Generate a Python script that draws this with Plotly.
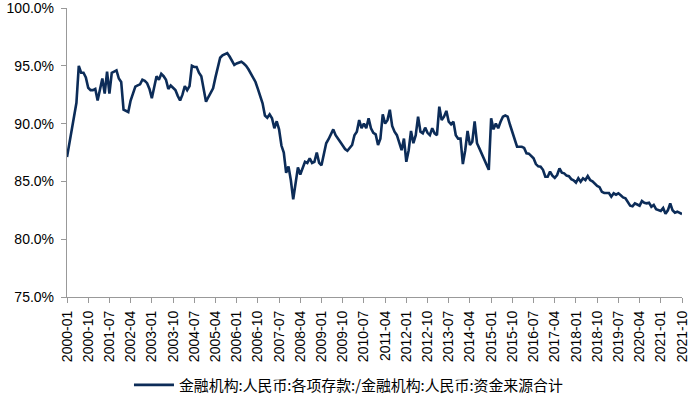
import plotly.graph_objects as go

start_year, start_month = 2000, 1
n_months = 262
months = []
y, m = start_year, start_month
for _ in range(n_months):
    months.append(f"{y}-{m:02d}")
    m += 1
    if m > 12:
        m = 1
        y += 1

values = [
    87.1, 88.3, 89.3, 90.5, 91.8, 95.0, 94.4, 94.4, 94.0, 93.1,
    92.9, 92.9, 93.0, 92.0, 93.0, 93.9, 92.6, 94.5, 92.6, 94.4,
    94.5, 94.6, 93.9, 93.6, 91.2, 91.1, 91.0, 92.0, 92.6, 93.2,
    93.3, 93.4, 93.8, 93.7, 93.5, 93.0, 92.2, 93.2, 94.1, 93.8,
    94.3, 94.1, 93.8, 93.0, 93.3, 93.1, 92.9, 92.4, 92.0, 92.5,
    93.25, 92.9, 93.25, 95.0, 94.9, 94.9, 94.4, 94.1, 93.0, 91.9,
    92.3, 92.7, 93.05, 94.0, 95.0, 95.7, 95.9, 96.0, 96.1, 95.8,
    95.4, 95.07, 95.2, 95.27, 95.35, 95.2, 95.0, 94.7, 94.35, 94.0,
    93.6, 93.0, 92.4, 91.75, 90.7, 90.5, 90.8, 90.46, 89.6, 90.2,
    89.5, 88.1, 87.5, 85.75, 86.3, 85.1, 83.45, 84.85, 86.2, 85.6,
    86.1, 86.7, 86.6, 87.0, 86.6, 86.7, 87.5, 86.6, 86.4, 87.5,
    88.3, 88.65, 89.1, 89.5, 89.0, 88.65, 88.4, 88.1, 87.8, 87.65,
    87.9, 88.15, 89.0, 89.3, 90.3, 89.6, 90.0, 89.6, 90.46, 89.6,
    89.2, 89.07, 88.15, 88.7, 90.8, 90.0, 90.3, 91.2, 89.8, 89.3,
    89.0, 88.3, 87.7, 88.7, 86.7, 87.7, 89.36, 88.3, 89.0, 90.6,
    89.3, 89.16, 89.65, 89.2, 89.0, 89.6, 89.16, 89.0, 91.46, 90.3,
    90.6, 91.1, 90.16, 89.94, 90.16, 89.0, 88.7, 88.7, 86.5, 87.7,
    89.36, 88.15, 88.43, 90.2, 88.3, 87.86, 87.43, 86.85, 86.57, 86.0,
    90.46, 89.5, 90.0, 89.6, 90.16, 90.6, 90.7, 90.6, 89.9, 89.3,
    88.8, 88.0, 88.0, 88.0, 87.9, 87.43, 87.4, 87.2, 87.0, 86.5,
    86.3, 86.27, 86.0, 85.4, 85.4, 85.85, 85.5, 85.3, 85.55, 86.13,
    85.75, 85.7, 85.5, 85.45, 85.2, 85.1, 84.9, 85.27, 84.97, 85.27,
    85.12, 85.47, 85.12, 85.0, 84.75, 84.6, 84.5, 84.1, 84.0, 83.97,
    84.0, 83.68, 83.97, 83.85, 83.97, 83.8, 83.62, 83.54, 83.16, 82.9,
    82.85, 83.1, 83.0, 82.9, 83.3, 83.15, 83.1, 83.16, 82.81, 82.96,
    82.6, 82.55, 82.45, 82.7, 82.2, 82.5, 83.1, 82.5, 82.3, 82.38,
    82.3, 82.18,
]

tick_labels = months[::9]
y_ticks = [75, 80, 85, 90, 95, 100]
series_name = "金融机构:人民币:各项存款:/金融机构:人民币:资金来源合计"

fig = go.Figure()
fig.add_trace(go.Scatter(
    x=months, y=values, mode="lines", name=series_name,
    line=dict(color="#0c2c58", width=2.6),
))

fig.update_layout(
    width=696, height=399,
    margin=dict(l=67, r=14, t=8, b=102, autoexpand=False),
    plot_bgcolor="white", paper_bgcolor="white",
    showlegend=True,
    legend=dict(orientation="h", x=0.4585, xanchor="center", y=-0.305, yanchor="middle",
                itemwidth=40,
                font=dict(family="Noto Sans CJK SC", size=14.9, color="#000000")),
    font=dict(family="Liberation Sans, Arial", size=14, color="#000000"),
)
fig.update_xaxes(
    type="category", range=[0, n_months - 1], automargin=False,
    tickmode="array", tickvals=tick_labels, ticktext=tick_labels,
    tickangle=-90, ticks="outside", ticklen=5, tickcolor="#999999",
    showline=True, linecolor="#999999", linewidth=1.3,
    showgrid=False, zeroline=False, ticklabeloverflow="allow",
    ticklabelstandoff=2,
    tickfont=dict(family="Liberation Sans, Arial", size=14, color="#000000"),
)
fig.update_yaxes(
    range=[75, 100.0001], automargin=False, tickmode="array", tickvals=y_ticks,
    ticktext=[f"{v:.1f}%" for v in y_ticks],
    ticks="outside", ticklen=5, tickcolor="#999999",
    showline=True, linecolor="#999999", linewidth=1.3,
    showgrid=False, zeroline=False, ticklabeloverflow="allow",
    ticklabelstandoff=4,
    tickfont=dict(family="Liberation Sans, Arial", size=14, color="#000000"),
)

fig.write_html("out.html", config={"displayModeBar": False},
               post_script="document.body.style.margin='0';")
